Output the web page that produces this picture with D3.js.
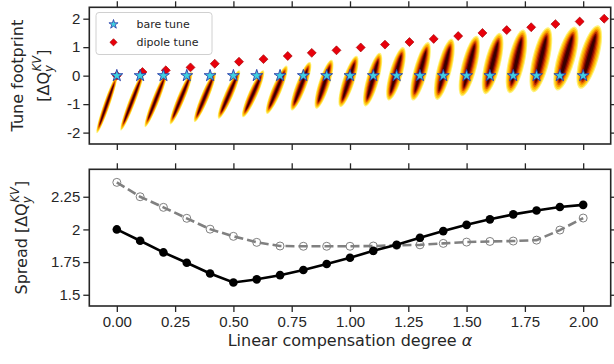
<!DOCTYPE html>
<html>
<head>
<meta charset="utf-8">
<script src="https://cdn.jsdelivr.net/npm/d3@7"></script>
<style>
  body { margin: 0; background: #fff; }
  svg { display: block; font-family: "DejaVu Sans", sans-serif; }
</style>
</head>
<body>
<svg id="chart" width="614" height="364"></svg>
<script>
// compensation degree alpha for every run
const alphas = [0.0, 0.1, 0.2, 0.3, 0.4, 0.5, 0.6, 0.7, 0.8, 0.9, 1.0,
                1.1, 1.2, 1.3, 1.4, 1.5, 1.6, 1.7, 1.8, 1.9, 2.0];

// dipole tune (shifted position on the footprint panel)
const dipoleX = [0.0, 0.11, 0.21, 0.316, 0.42, 0.524, 0.629, 0.733, 0.836, 0.942, 1.046,
                 1.15, 1.255, 1.359, 1.464, 1.568, 1.672, 1.777, 1.881, 1.985, 2.09];
const dipoleY = [0.0, 0.127, 0.187, 0.29, 0.42, 0.49, 0.58, 0.69, 0.8, 0.89, 0.99,
                 1.09, 1.18, 1.29, 1.39, 1.5, 1.6, 1.7, 1.81, 1.9, 2.0];

// footprint extent: low end and high end (x offset from alpha, tune shift) and width
const fpLowDx  = [-0.086, -0.083, -0.079, -0.071, -0.067, -0.064, -0.06, -0.057, -0.05, -0.045, -0.042,
                  -0.035, -0.035, -0.031, -0.028, -0.021, -0.021, -0.016, -0.014, -0.013, -0.013];
const fpLowY   = [-2.02, -1.93, -1.81, -1.71, -1.63, -1.51, -1.46, -1.34, -1.22, -1.16, -1.1,
                  -1.08, -0.87, -0.87, -0.85, -0.72, -0.65, -0.62, -0.58, -0.52, -0.46];
const fpHighDx = [0.0, 0.014, 0.014, 0.022, 0.022, 0.026, 0.029, 0.029, 0.029, 0.022, 0.029,
                  0.029, 0.029, 0.036, 0.037, 0.044, 0.044, 0.044, 0.051, 0.065, 0.065];
const fpHighY  = [0.0, 0.13, 0.13, 0.13, 0.13, 0.19, 0.19, 0.35, 0.48, 0.56, 0.7,
                  0.8, 1.0, 1.18, 1.3, 1.4, 1.5, 1.62, 1.7, 1.72, 1.77];
const fpWidth  = [0.027, 0.029, 0.031, 0.033, 0.035, 0.037, 0.039, 0.042, 0.045, 0.048, 0.051,
                  0.054, 0.057, 0.06, 0.063, 0.066, 0.069, 0.072, 0.075, 0.078, 0.081];

// spread of the tune footprint
const spreadSolid  = [2.0, 1.913, 1.824, 1.745, 1.663, 1.594, 1.618, 1.65, 1.69, 1.735, 1.783,
                      1.836, 1.882, 1.936, 1.987, 2.035, 2.077, 2.115, 2.145, 2.171, 2.188];
const spreadDashed = [2.36, 2.25, 2.169, 2.085, 2.002, 1.947, 1.901, 1.873, 1.871, 1.871, 1.871,
                      1.873, 1.878, 1.882, 1.893, 1.903, 1.908, 1.911, 1.918, 1.995, 2.087];

const xTicks = [0, 0.25, 0.5, 0.75, 1.0, 1.25, 1.5, 1.75, 2.0];
const topTicks = [-2, -1, 0, 1, 2];
const botTicks = [1.5, 1.75, 2, 2.25];
const botTickLabels = ["1.5", "1.75", "2", "2.25"];

const svg = d3.select("#chart");
const ink = "#262626";

const left = 89.3, right = 610.7;
const top1 = 7.3, bot1 = 144;
const top2 = 169.3, bot2 = 306;

const x = d3.scaleLinear().domain([-0.118, 2.118]).range([left, right]);
const yTop = d3.scaleLinear().domain([-2.4, 2.4]).range([bot1, top1]);
const yBot = d3.scaleLinear().domain([1.414, 2.46]).range([bot2, top2]);

function drawAxes(g, y, ticks, fmt, yLo, yHi, showX) {
    g.append("g")
        .attr("transform", `translate(${left},0)`)
        .call(d3.axisLeft(y).tickValues(ticks).tickFormat(fmt).tickSize(6).tickSizeOuter(0).tickPadding(3));
    g.append("g")
        .attr("transform", `translate(${right},0)`)
        .call(d3.axisRight(y).tickValues(ticks).tickFormat("").tickSize(6).tickSizeOuter(0));
    g.append("g")
        .attr("transform", `translate(0,${yLo})`)
        .call(d3.axisTop(x).tickValues(xTicks).tickFormat("").tickSize(6).tickSizeOuter(0));
    g.append("g")
        .attr("transform", `translate(0,${yHi})`)
        .call(d3.axisBottom(x).tickValues(xTicks)
            .tickFormat(showX ? d3.format(".2f") : "").tickSize(6).tickSizeOuter(0).tickPadding(4));
    g.selectAll(".domain").remove();
    g.selectAll(".tick line").attr("stroke", ink).attr("stroke-width", 1.3);
    g.selectAll(".tick text").attr("fill", ink).style("font-size", "15px");
    g.append("rect")
        .attr("x", left).attr("y", yLo)
        .attr("width", right - left).attr("height", yHi - yLo)
        .attr("fill", "none").attr("stroke", ink).attr("stroke-width", 1.6);
}

// ---------- top panel: footprints ----------
const gTop = svg.append("g");
const clip = svg.append("defs").append("clipPath").attr("id", "clipTop");
clip.append("rect").attr("x", left).attr("y", top1).attr("width", right - left).attr("height", bot1 - top1);

const fpLayer = gTop.append("g").attr("clip-path", "url(#clipTop)");
// nested density bands, outer to inner
const bands = [
    {s: 1.0, c: "#fff27a"},
    {s: 0.88, c: "#ffd21f"},
    {s: 0.74, c: "#fca500"},
    {s: 0.6, c: "#e26400"},
    {s: 0.46, c: "#b82800"},
    {s: 0.32, c: "#7a0400"},
    {s: 0.18, c: "#3a0000"}
];

alphas.forEach((a, i) => {
    const x0 = x(a + fpLowDx[i]), y0 = yTop(fpLowY[i]);
    const x1 = x(a + fpHighDx[i]), y1 = yTop(fpHighY[i]);
    const cx = (x0 + x1) / 2, cy = (y0 + y1) / 2;
    const len = Math.hypot(x1 - x0, y1 - y0) / 2;
    const ang = Math.atan2(y1 - y0, x1 - x0) * 180 / Math.PI;
    const w = (x(fpWidth[i]) - x(0)) / 2;
    const g = fpLayer.append("g").attr("transform", `translate(${cx},${cy}) rotate(${ang})`);
    bands.forEach(b => {
        g.append("ellipse")
            .attr("rx", len * (0.6 + 0.4 * b.s))
            .attr("ry", w * b.s)
            .attr("fill", b.c);
    });
});

// dipole tune markers
gTop.append("g").selectAll("path")
    .data(alphas)
    .join("path")
    .attr("d", d3.symbol(d3.symbolSquare, 40))
    .attr("transform", (d, i) => `translate(${x(dipoleX[i])},${yTop(dipoleY[i])}) rotate(45)`)
    .attr("fill", "#e8000b")
    .attr("stroke", "#a00000")
    .attr("stroke-width", 0.6);

// bare tune markers
gTop.append("g").selectAll("path")
    .data(alphas)
    .join("path")
    .attr("d", d3.symbol(d3.symbolStar, 44))
    .attr("transform", d => `translate(${x(d)},${yTop(0)})`)
    .attr("fill", "#3fd0e0")
    .attr("stroke", "#2a3aa8")
    .attr("stroke-width", 0.9);

drawAxes(gTop, yTop, topTicks, d => d < 0 ? "-" + Math.abs(d) : String(d), top1, bot1, false);

// legend
const leg = gTop.append("g");
leg.append("rect")
    .attr("x", 96).attr("y", 12.5).attr("width", 116).attr("height", 42).attr("rx", 3)
    .attr("fill", "#fff").attr("fill-opacity", 0.85)
    .attr("stroke", "#d0d0d0").attr("stroke-width", 1);
leg.append("path")
    .attr("d", d3.symbol(d3.symbolStar, 26))
    .attr("transform", "translate(113.5,24.3)")
    .attr("fill", "#3fd0e0").attr("stroke", "#2a3aa8").attr("stroke-width", 0.8);
leg.append("path")
    .attr("d", d3.symbol(d3.symbolSquare, 26))
    .attr("transform", "translate(113.5,42.3) rotate(45)")
    .attr("fill", "#e8000b").attr("stroke", "#a00000").attr("stroke-width", 0.6);
leg.append("text").attr("x", 136.5).attr("y", 24.3).attr("dy", "0.35em")
    .attr("fill", ink).style("font-size", "11px").text("bare tune");
leg.append("text").attr("x", 136.5).attr("y", 42.3).attr("dy", "0.35em")
    .attr("fill", ink).style("font-size", "11px").text("dipole tune");

// ---------- bottom panel: spread ----------
const gBot = svg.append("g");

const line = d3.line().x((d, i) => x(alphas[i])).y(d => yBot(d));

gBot.append("path")
    .datum(spreadDashed)
    .attr("d", line)
    .attr("fill", "none")
    .attr("stroke", "#808080")
    .attr("stroke-width", 2.6)
    .attr("stroke-dasharray", "9,4");
gBot.append("g").selectAll("circle")
    .data(spreadDashed)
    .join("circle")
    .attr("cx", (d, i) => x(alphas[i]))
    .attr("cy", d => yBot(d))
    .attr("r", 4)
    .attr("fill", "none")
    .attr("stroke", "#808080")
    .attr("stroke-width", 1);

gBot.append("path")
    .datum(spreadSolid)
    .attr("d", line)
    .attr("fill", "none")
    .attr("stroke", "#000")
    .attr("stroke-width", 2.6);
gBot.append("g").selectAll("circle")
    .data(spreadSolid)
    .join("circle")
    .attr("cx", (d, i) => x(alphas[i]))
    .attr("cy", d => yBot(d))
    .attr("r", 4.3)
    .attr("fill", "#000");

drawAxes(gBot, yBot, botTicks, (d, i) => botTickLabels[i], top2, bot2, true);

// ---------- axis labels ----------
svg.append("text")
    .attr("x", (left + right) / 2).attr("y", 346)
    .attr("text-anchor", "middle").attr("fill", ink).style("font-size", "16px")
    .call(t => {
        t.append("tspan").text("Linear compensation degree ");
        t.append("tspan").attr("font-style", "italic").text("α");
    });

function dq(t) {
    t.append("tspan").text("[ΔQ");
    t.append("tspan").attr("font-style", "italic").attr("font-size", "11.5px").attr("dy", 4).text("y");
    t.append("tspan").attr("font-style", "italic").attr("font-size", "11.5px").attr("dx", -6).attr("dy", -12).text("KV");
    t.append("tspan").attr("dy", 8).text("]");
}

svg.append("text")
    .attr("transform", `translate(17,${(top1 + bot1) / 2}) rotate(-90)`)
    .attr("text-anchor", "middle").attr("dy", "0.35em").attr("fill", ink).style("font-size", "16px")
    .text("Tune footprint");
svg.append("text")
    .attr("transform", `translate(43,${(top1 + bot1) / 2}) rotate(-90)`)
    .attr("text-anchor", "middle").attr("dy", "0.35em").attr("fill", ink).style("font-size", "16px")
    .call(dq);

svg.append("text")
    .attr("transform", `translate(21,${(top2 + bot2) / 2}) rotate(-90)`)
    .attr("text-anchor", "middle").attr("dy", "0.35em").attr("fill", ink).style("font-size", "16px")
    .call(t => {
        t.append("tspan").text("Spread ");
        dq(t);
    });
</script>
</body>
</html>
